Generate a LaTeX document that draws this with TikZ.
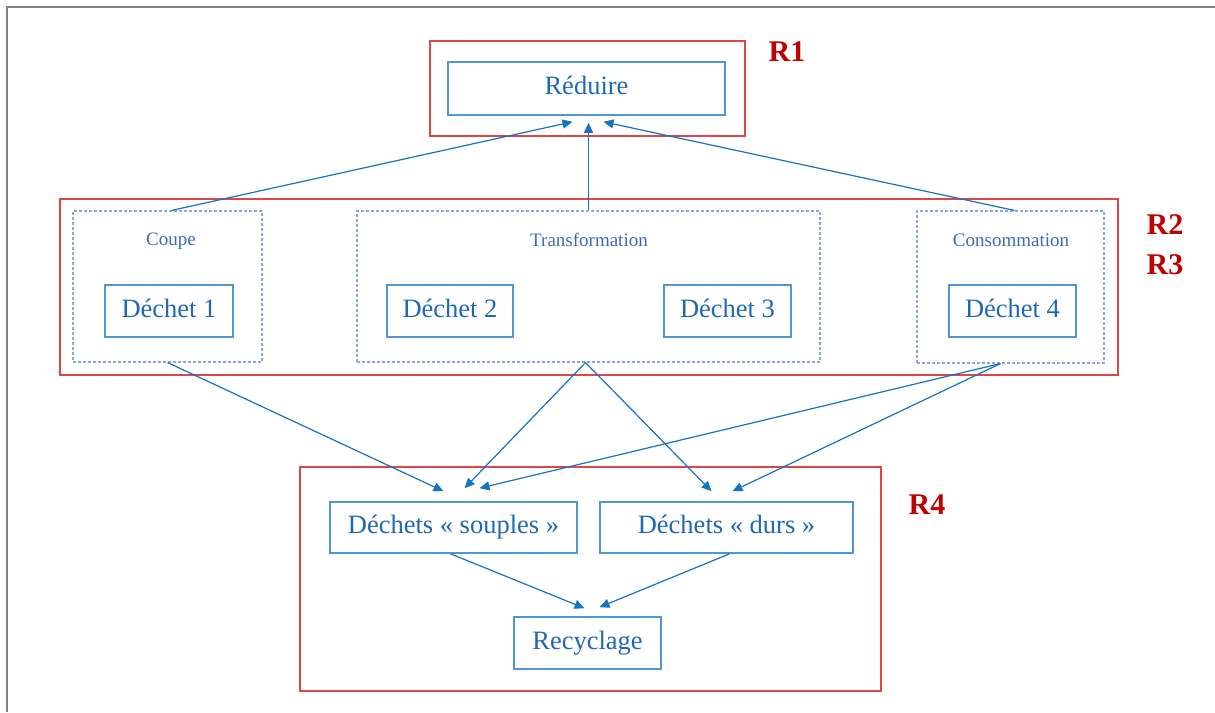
\documentclass[tikz,border=0pt]{standalone}
\usepackage{fontspec}
\setmainfont{Liberation Serif}
\usetikzlibrary{calc}
\usetikzlibrary{arrows.meta}

\definecolor{bleutexte}{RGB}{30,104,182}
\definecolor{bleutrait}{RGB}{80,150,212}
\definecolor{bleufleche}{RGB}{20,115,195}
\definecolor{bleupointille}{RGB}{140,168,218}
\definecolor{bleugroupe}{RGB}{62,104,186}
\definecolor{rougecadre}{RGB}{225,70,70}
\definecolor{rougetexte}{RGB}{190,0,0}
\definecolor{grispage}{RGB}{130,130,130}

\tikzset{
	boite/.style={draw=bleutrait, line width=1.6pt, text=bleutexte, inner sep=0pt,
		text height=18pt, text depth=6pt, font=\fontsize{26.5}{30}\selectfont},
	groupe/.style={draw=bleupointille, line width=1.1pt, dash pattern=on 3pt off 2pt, inner sep=0pt},
	nomgroupe/.style={text=bleugroupe, inner sep=0pt, text height=13pt, text depth=4pt,
		font=\fontsize{19}{22}\selectfont},
	cadre/.style={draw=rougecadre, line width=1.3pt, inner sep=0pt},
	niveau/.style={text=rougetexte, inner sep=0pt, font=\fontsize{30}{34}\selectfont\bfseries},
	fleche/.style={draw=bleufleche, line width=1.2pt, -{Triangle[length=10pt,width=9pt]}}
}

\begin{document}
\begin{tikzpicture}[x=1pt,y=-1pt]

	\useasboundingbox (0,0) rectangle (1215,712);
	\draw[grispage, line width=1.6pt] (7,712)--(7,7)--(1215,7);

	% cadres rouges
	\node[cadre, minimum width=315pt, minimum height=95pt] (r1) at (587.5,88.5) {};
	\node[cadre, minimum width=1058pt, minimum height=176pt] (r2) at (589,287) {};
	\node[cadre, minimum width=581pt, minimum height=224pt] (r4) at (590.5,579) {};

	\node[niveau] (n1) at (787,52) {R1};
	\node[niveau] (n2) at (1165,225) {R2};
	\node[niveau] (n3) at (1165,265) {R3};
	\node[niveau] (n4) at (927,505) {R4};

	% groupes
	\node[groupe, minimum width=189pt, minimum height=151pt] (coupe) at (167.5,286.5) {};
	\node[groupe, minimum width=463pt, minimum height=151pt] (transfo) at (588.5,286.5) {};
	\node[groupe, minimum width=187pt, minimum height=152pt] (conso) at (1010.5,287) {};

	\node[nomgroupe] (tcoupe) at (171,241) {Coupe};
	\node[nomgroupe] (ttransfo) at (589,242) {Transformation};
	\node[nomgroupe] (tconso) at (1011,242) {Consommation};

	% boites
	\node[boite, minimum width=277pt, minimum height=53pt] (reduire) at (586.5,88.5) {Réduire};
	\node[boite, minimum width=128pt, minimum height=52pt] (d1) at (169,311) {Déchet 1};
	\node[boite, minimum width=126pt, minimum height=52pt] (d2) at (450,311) {Déchet 2};
	\node[boite, minimum width=127pt, minimum height=52pt] (d3) at (727.5,311) {Déchet 3};
	\node[boite, minimum width=127pt, minimum height=52pt] (d4) at (1012.5,311) {Déchet 4};
	\node[boite, minimum width=247pt, minimum height=51pt] (souples) at (453.5,527.5) {Déchets « souples »};
	\node[boite, minimum width=253pt, minimum height=51pt] (durs) at (726.5,527.5) {Déchets « durs »};
	\node[boite, minimum width=147pt, minimum height=52pt] (recyclage) at (587.5,643) {Recyclage};

	% fleches
	\draw[fleche] ($(coupe.north)+(4,0)$)--($(reduire.south)+(-14,6)$);
	\draw[fleche] (transfo.north)--($(reduire.south)+(2,7)$);
	\draw[fleche] ($(conso.north)+(4,0)$)--($(reduire.south)+(17,6)$);

	\draw[fleche] (coupe.south)--($(souples.north)+(-10,-10)$);
	\draw[fleche] ($(transfo.south)+(-3,0)$)--($(souples.north)+(11,-13)$);
	\draw[fleche] ($(conso.south)+(-10,0)$)--($(souples.north)+(26,-13)$);
	\draw[fleche] ($(transfo.south)+(-3,0)$)--($(durs.north)+(-15,-10)$);
	\draw[fleche] ($(conso.south)+(-10,0)$)--($(durs.north)+(6,-10)$);

	\draw[fleche] ($(souples.south)+(-3,0)$)--($(recyclage.north)+(-3,-8)$);
	\draw[fleche] ($(durs.south)+(3,0)$)--($(recyclage.north)+(12,-9)$);
\end{tikzpicture}
\end{document}
